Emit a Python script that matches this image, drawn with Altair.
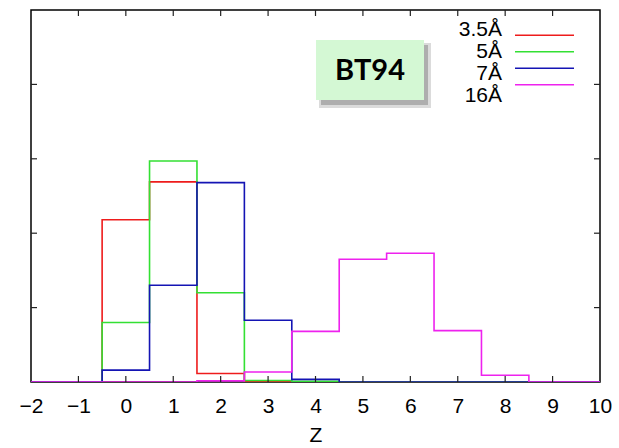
import altair as alt
import pandas as pd

# ---- data ----
series_names = ["3.5Å", "5Å", "7Å", "16Å"]
series_colors = ["#ee1c1c", "#33e033", "#1414b4", "#ee22ee"]
bin_centers = [-2, -1, 0, 1, 2, 3, 4, 5, 6, 7, 8, 9, 10]
v_35 = [0, 0, 2.18, 2.69, 0.115, 0.01, 0, 0, 0, 0, 0, 0, 0]
v_5 = [0, 0, 0.80, 2.97, 1.20, 0.02, 0.01, 0, 0, 0, 0, 0, 0]
v_7 = [0, 0, 0.16, 1.30, 2.68, 0.83, 0.035, 0, 0, 0, 0, 0, 0]
v_16 = [0, 0, 0, 0, 0.015, 0.135, 0.68, 1.65, 1.73, 0.69, 0.09, 0, 0]
x_tick_vals = list(range(-2, 11))
inner_x_ticks = list(range(-1, 10))
y_tick_vals = [1, 2, 3, 4]
bin_width = 1
box_label = "BT94"

W, H = 569, 372

# ---- step-outline table ----
rows = []
for order, (name, vals) in enumerate(zip(series_names, [v_35, v_5, v_7, v_16])):
    for c, v in zip(bin_centers, vals):
        rows.append({"series": name, "edge": c - bin_width / 2, "value": v, "o": order})
    rows.append({"series": name, "edge": bin_centers[-1] + bin_width / 2, "value": 0, "o": order})
steps = pd.DataFrame(rows)

xscale = alt.Scale(domain=[-2, 10], nice=False, zero=False)
yscale = alt.Scale(domain=[0, 5], nice=False)
cscale = alt.Scale(domain=series_names, range=series_colors)

lines = alt.Chart(steps).mark_line(interpolate="step-after", clip=True, strokeWidth=1.6).encode(
    x=alt.X("edge:Q", scale=xscale,
            axis=alt.Axis(values=x_tick_vals, title="Z", ticks=False, tickSize=0, domain=False,
                          grid=False, labelFontSize=21, labelFont="Liberation Sans",
                          labelFlush=False, labelOverlap=False,
                          labelColor="black", labelPadding=13, titleFontSize=21,
                          titleFont="Liberation Sans", titleFontWeight="normal",
                          titleColor="black", titlePadding=8)),
    y=alt.Y("value:Q", scale=yscale, axis=None),
    color=alt.Color("series:N", scale=cscale, legend=None),
    detail="series:N",
    order="edge:Q",
)

xt = pd.DataFrame({"t": inner_x_ticks})
yt = pd.DataFrame({"t": y_tick_vals})
tick_style = dict(color="#222", strokeWidth=1.2)
bottom_ticks = alt.Chart(xt).mark_rule(**tick_style).encode(
    x=alt.X("t:Q", scale=xscale), y=alt.value(H), y2=alt.value(H - 6))
top_ticks = alt.Chart(xt).mark_rule(**tick_style).encode(
    x=alt.X("t:Q", scale=xscale), y=alt.value(0), y2=alt.value(6))
left_ticks = alt.Chart(yt).mark_rule(**tick_style).encode(
    y=alt.Y("t:Q", scale=yscale, axis=None), x=alt.value(0), x2=alt.value(6))
right_ticks = alt.Chart(yt).mark_rule(**tick_style).encode(
    y=alt.Y("t:Q", scale=yscale, axis=None), x=alt.value(W - 6), x2=alt.value(W))

# ---- legend (top right) ----
leg = pd.DataFrame({"series": series_names})
leg_y = alt.Y("series:N", sort=series_names, scale=alt.Scale(range=[17, 83], padding=0), axis=None)
leg_text = alt.Chart(leg).mark_text(align="right", baseline="alphabetic", dy=9, fontSize=21,
                                    font="Liberation Sans", color="black").encode(
    x=alt.value(471), y=leg_y, text="series:N")
leg_lines = alt.Chart(leg).mark_rule(strokeWidth=1.6).encode(
    x=alt.value(484), x2=alt.value(543), y=leg_y,
    color=alt.Color("series:N", scale=cscale, legend=None))

# ---- BT94 box ----
lab = pd.DataFrame({"label": [box_label]})
shadow2 = alt.Chart(lab).mark_rect(color="#b0b0b0", opacity=0.45).encode(
    x=alt.value(288), x2=alt.value(400), y=alt.value(33), y2=alt.value(98))
shadow = alt.Chart(lab).mark_rect(color="#888888", opacity=0.55).encode(
    x=alt.value(290), x2=alt.value(397), y=alt.value(35), y2=alt.value(95))
box = alt.Chart(lab).mark_rect(color="#d4f8d4").encode(
    x=alt.value(285), x2=alt.value(393), y=alt.value(30), y2=alt.value(90))
box_text = alt.Chart(lab).mark_text(fontSize=29, fontWeight="bold", font="Lato",
                                    color="black", align="center", baseline="middle").encode(
    x=alt.value(339), y=alt.value(61), text="label:N")

chart = alt.layer(
    shadow2, shadow, box, box_text,
    lines, bottom_ticks, top_ticks, left_ticks, right_ticks,
    leg_lines, leg_text,
).resolve_scale(y="independent").properties(
    width=W, height=H, autosize="none",
    padding={"left": 31, "top": 10, "right": 19, "bottom": 66},
    background="white",
).configure_view(stroke="black", strokeWidth=1.5)

chart.save("out.html", embed_options={"renderer": "svg", "actions": False})
